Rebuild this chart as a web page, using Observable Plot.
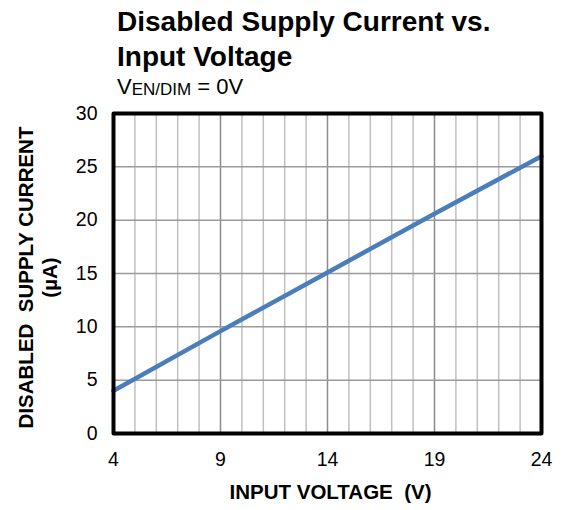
<!DOCTYPE html>
<html><head><meta charset="utf-8">
<script src="https://cdn.jsdelivr.net/npm/d3@7"></script>
<script src="https://cdn.jsdelivr.net/npm/@observablehq/plot@0.6"></script>
<style>
body{margin:0;background:#fff;font-family:"Liberation Sans",Arial,sans-serif;color:#000;}
#wrap{width:562px;height:510px;position:relative;overflow:hidden;}
#head{height:100px;padding-left:117px;box-sizing:border-box;padding-top:4px;}
.t{font-size:28px;font-weight:bold;line-height:35px;margin:0;}
.s{font-size:22px;line-height:26px;margin:0;}
.s span{font-size:17px;line-height:0;position:relative;top:1px;}
#chart svg{display:block;}
</style></head>
<body><div id="wrap"><div id="head"><div class="t">Disabled Supply Current vs.<br>Input Voltage</div><div class="s">V<span>EN/DIM</span> = 0V</div></div><div id="chart"></div></div>
<script>
const voltage = [4, 9, 14, 19, 24];
const current = [4.0, 9.6, 15.1, 20.6, 26.0];
const xTicks = [4, 9, 14, 19, 24];
const yTicks = [0, 5, 10, 15, 20, 25, 30];
const minorX = [5, 6, 7, 8, 10, 11, 12, 13, 15, 16, 17, 18, 20, 21, 22, 23];
const majorX = [9, 14, 19];
const xLabel = "INPUT VOLTAGE\u00a0 (V)";
const yLabel = "DISABLED\u00a0 SUPPLY CURRENT\n(µA)";

const data = voltage.map((v, i) => ({v, c: current[i]}));
const font = "Liberation Sans, Arial, sans-serif";

const plot = Plot.plot({
  width: 562, height: 410,
  marginTop: 13, marginBottom: 77, marginLeft: 113, marginRight: 21,
  style: {fontFamily: font, background: "#fff", color: "#000"},
  x: {domain: [4, 24]},
  y: {domain: [0, 30]},
  marks: [
    Plot.ruleX(minorX, {stroke: "#c0c0c0", strokeWidth: 1.5}),
    Plot.ruleX(majorX, {stroke: "#8c8c8c", strokeWidth: 1.5}),
    Plot.ruleY(yTicks.slice(1, -1), {stroke: "#9a9a9a", strokeWidth: 1.5}),
    Plot.line(data, {x: "v", y: "c", stroke: "#4a7ebb", strokeWidth: 4.5}),
    Plot.frame({stroke: "#000", strokeWidth: 4, strokeLinejoin: "round"}),
    Plot.axisX({ticks: xTicks, tickSize: 0, tickPadding: 19, fontSize: 19.5, label: null}),
    Plot.axisY({ticks: yTicks, tickSize: 0, tickPadding: 16, fontSize: 19.5, label: null}),
    Plot.text([xLabel], {frameAnchor: "bottom", textAnchor: "middle", dy: 65, dx: 3, fontWeight: "bold", fontSize: 20.5, fill: "#000"}),
    Plot.text([yLabel], {frameAnchor: "left", textAnchor: "middle", rotate: -90, dx: -76, dy: 4, fontWeight: "bold", fontSize: 20.5, lineHeight: 1.17, fill: "#000"})
  ]
});
document.getElementById("chart").appendChild(plot);
</script>
</body></html>
